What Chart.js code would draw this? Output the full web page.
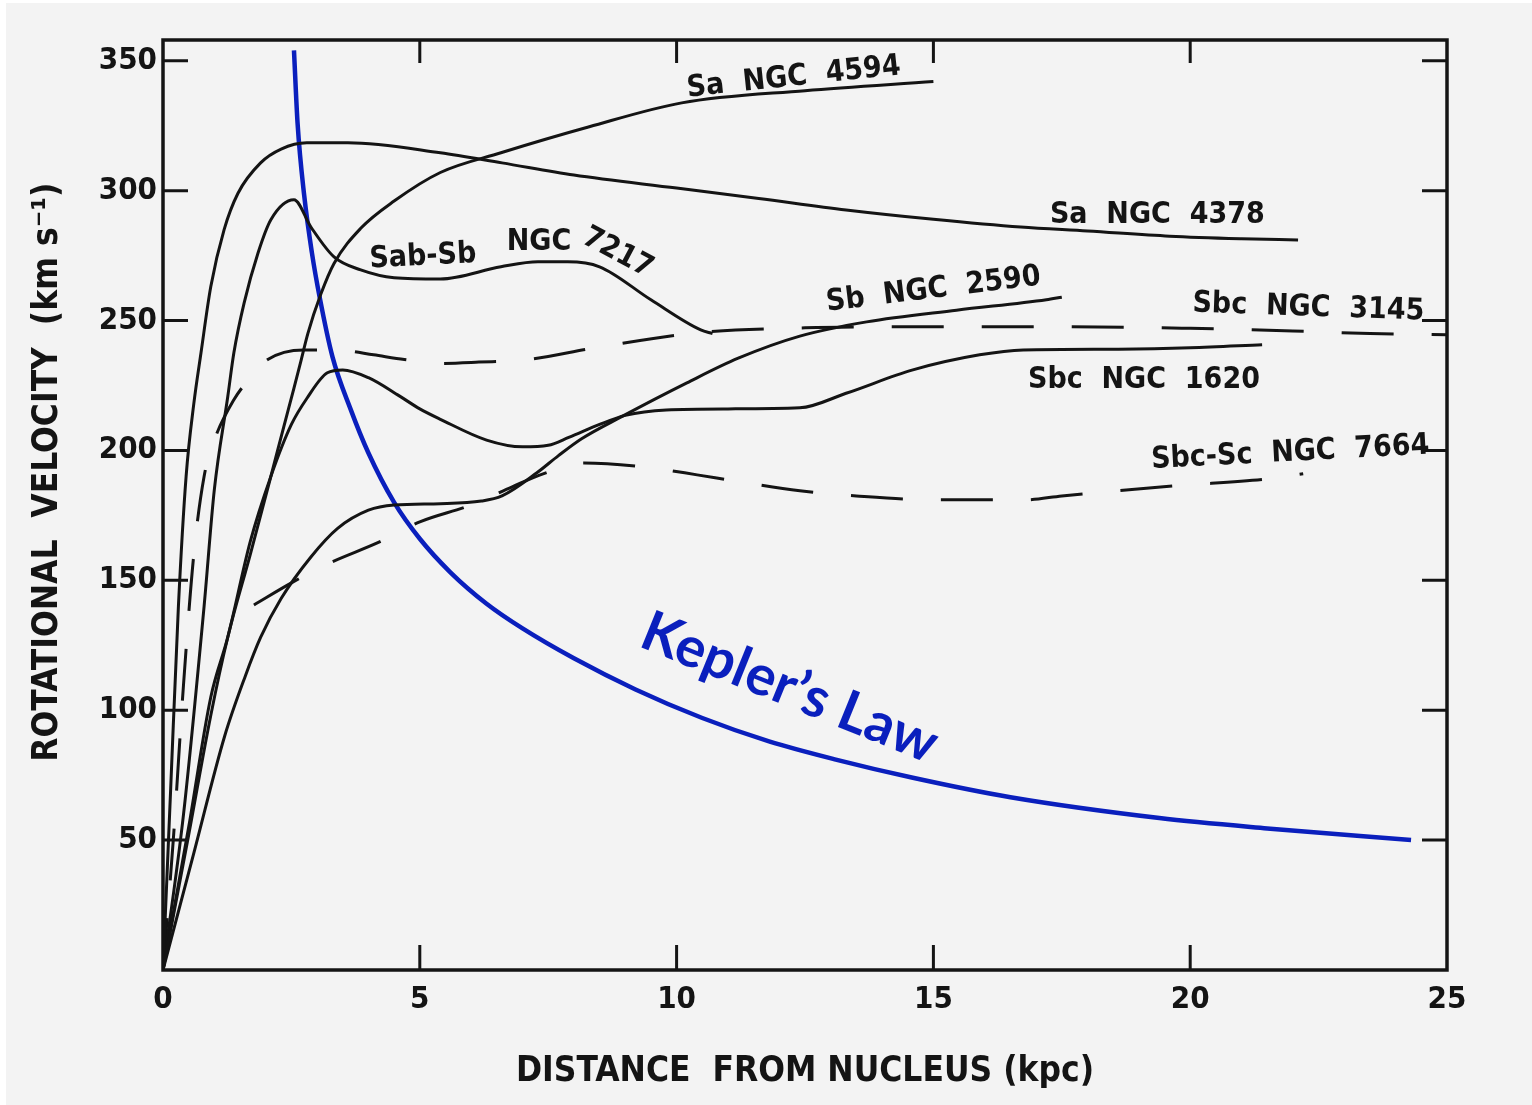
<!DOCTYPE html>
<html>
<head>
<meta charset="utf-8">
<script src="https://cdn.jsdelivr.net/npm/chart.js@4.4.1/dist/chart.umd.min.js"></script>
<style>
  html, body { margin: 0; padding: 0; background: #ffffff; }
  #wrap { width: 1532px; height: 1105px; }
</style>
</head>
<body>
<div id="wrap"><canvas id="rotationChart" width="1532" height="1105"></canvas></div>
<script>
// Axis ticks
const xTickValues = [0, 5, 10, 15, 20, 25];
const yTickValues = [50, 100, 150, 200, 250, 300, 350];

// Rotation curves (kpc / km s^-1)
const ngc4594X = [0, 0.5, 0.93, 1.26, 1.7, 2.1, 2.35, 2.55, 2.68, 2.82, 3.07, 3.33, 3.85, 4.5, 5.4, 6.58, 8.3, 10.1, 12.5, 15.0];
const ngc4594V = [0, 52, 98, 128, 160, 190, 209, 224, 234, 245, 260, 272, 285.5, 296, 307, 314.6, 324.6, 333.8, 338.5, 342];

const ngc4378X = [0, 0.15, 0.3, 0.45, 0.6, 0.74, 0.93, 1.19, 1.46, 1.9, 2.3, 2.8, 3.6, 5.4, 6.6, 8.0, 10.0, 11.6, 13.3, 15.0, 16.7, 18.0, 19.6, 21.0, 22.1];
const ngc4378V = [0, 70, 140, 190, 218, 237.6, 263, 285, 299, 310.7, 316, 318.4, 318.4, 314.6, 310.7, 306, 301, 297, 292.6, 289, 286, 284.5, 282.5, 281.5, 281];

const ngc7217X = [0, 0.4, 0.8, 1.0, 1.26, 1.38, 1.58, 1.85, 2.1, 2.55, 2.88, 3.33, 3.85, 4.5, 5.4, 6.58, 7.3, 7.88, 8.5, 9.5, 10.47, 10.7];
const ngc7217V = [0, 60, 140, 185, 220.6, 237.6, 256.8, 276, 288.8, 296.5, 286, 274.5, 269.5, 266.5, 266, 270.7, 272.6, 272.6, 270.7, 258, 246.4, 245];

const ngc2590X = [0, 0.6, 1.2, 1.6, 1.9, 2.3, 2.88, 3.4, 4.0, 4.5, 5.4, 6.2, 6.6, 7.28, 7.7, 8.15, 8.93, 10.2, 11.2, 12.4, 13.7, 15.45, 17.2, 17.5];
const ngc2590V = [0, 45, 90, 113, 128, 143, 159, 170, 177, 179, 179.5, 180.5, 182.5, 191.4, 198, 204.5, 213, 226, 235.5, 244, 249.5, 254, 258, 259];

const ngc1620X = [0, 0.5, 0.93, 1.26, 1.7, 2.1, 2.5, 2.8, 3.2, 3.5, 4.0, 4.6, 5.0, 5.4, 6.3, 7.0, 7.5, 7.9, 8.5, 9.0, 9.8, 11.0, 12.4, 13.3, 14.6, 15.9, 16.75, 18.6, 20.0, 21.4];
const ngc1620V = [0, 55, 105, 128, 165, 190, 210, 220, 229.9, 231, 228, 221, 216, 212, 204, 201.4, 202, 205, 210, 213.5, 215.6, 216, 216.4, 222, 231, 236.8, 238.7, 239, 239.5, 240.7];

const ngc3145X = [0, 0.2, 0.4, 0.6, 0.8, 1.0, 1.38, 1.7, 2.04, 2.74, 3.5, 4.1, 4.7, 5.4, 6.15, 7.1, 8.4, 10.4, 12.5, 14.6, 17.6, 20.0, 22.0, 23.5, 25.0];
const ngc3145V = [0, 50, 110, 160, 190, 204, 219.5, 228, 235, 238.7, 238.5, 236.8, 235, 233.5, 234, 235, 239.5, 245.3, 247.2, 247.6, 247.6, 247, 246, 245, 244.5];

const ngc7664X = [1.77, 2.5, 3.17, 4.24, 5.0, 6.0, 6.8, 7.4, 8.2, 9.5, 10.4, 11.2, 12.4, 13.5, 15.0, 16.8, 17.5, 19.7, 21.5, 22.2];
const ngc7664V = [140.5, 149, 156, 165, 172.5, 179, 186, 191, 195.2, 193.3, 190.6, 188, 184.5, 182.5, 181, 181, 182.5, 186.4, 189, 191];

const keplerX = [2.55, 2.62, 2.75, 2.9, 3.05, 3.3, 3.65, 4.0, 4.5, 5.0, 5.6, 6.3, 7.0, 8.0, 9.2, 10.5, 11.8, 13.1, 14.6, 16.5, 19.4, 21.5, 24.3];
const keplerV = [354, 326, 298, 276, 259, 236, 216, 199, 180, 166, 153, 141, 131.5, 120, 108, 97, 88, 81, 74, 66.5, 58.5, 54.5, 50];

// Curve labels (placed in data coordinates)
const curveLabels = [
    { text: 'Sa  NGC  4594', x: 12.28, v: 343.5, angle: -6 },
    { text: 'Sa  NGC  4378', x: 19.36, v: 290.7, angle: 0 },
    { text: 'Sab-Sb', x: 5.06, v: 274.5, angle: -3 },
    { text: 'NGC', x: 7.32, v: 280.3, angle: 0 },
    { text: '7217', x: 8.85, v: 276, angle: 28 },
    { text: 'Sb  NGC  2590', x: 15.0, v: 261.8, angle: -7 },
    { text: 'Sbc  NGC  3145', x: 22.3, v: 254.9, angle: 2 },
    { text: 'Sbc  NGC  1620', x: 19.1, v: 227.2, angle: 0 },
    { text: 'Sbc-Sc  NGC  7664', x: 21.95, v: 199, angle: -3 }
];
const keplerLabel = { text: 'Kepler\u2019s Law', x: 12.2, v: 108.6, angle: 22 };

const INK = '#141414';
const BLUE = '#0a1fbd';
const FONT = "'DejaVu Sans Condensed', 'DejaVu Sans', sans-serif";

function toPoints(xs, vs) {
    return xs.map((x, i) => ({ x: x, y: vs[i] }));
}

function curve(label, xs, vs, dashed) {
    return {
        label: label,
        data: toPoints(xs, vs),
        borderColor: INK,
        borderWidth: 3,
        borderDash: dashed ? [52, 38] : [],
        pointRadius: 0,
        fill: false,
        cubicInterpolationMode: 'monotone'
    };
}

const paperPlugin = {
    id: 'paper',
    beforeDraw(chart) {
        const { ctx, width, height } = chart;
        ctx.save();
        ctx.fillStyle = '#ffffff';
        ctx.fillRect(0, 0, width, height);
        ctx.fillStyle = '#f3f3f3';
        ctx.fillRect(6, 3, width - 6, height - 3);
        ctx.restore();
    },
    afterDatasetsDraw(chart) {
        const { ctx, chartArea: a, scales: { x, y } } = chart;
        ctx.save();
        ctx.strokeStyle = INK;
        ctx.lineWidth = 3.5;
        ctx.strokeRect(a.left, a.top, a.right - a.left, a.bottom - a.top);

        // inward tick marks on all four sides
        ctx.lineWidth = 3;
        ctx.beginPath();
        xTickValues.slice(1, -1).forEach(v => {
            const px = x.getPixelForValue(v);
            ctx.moveTo(px, a.bottom); ctx.lineTo(px, a.bottom - 25);
            ctx.moveTo(px, a.top); ctx.lineTo(px, a.top + 23);
        });
        yTickValues.forEach(v => {
            const py = y.getPixelForValue(v);
            ctx.moveTo(a.left, py); ctx.lineTo(a.left + 25, py);
            ctx.moveTo(a.right, py); ctx.lineTo(a.right - 25, py);
        });
        ctx.stroke();

        // curve names
        ctx.fillStyle = INK;
        ctx.font = 'bold 30px ' + FONT;
        ctx.textAlign = 'center';
        ctx.textBaseline = 'middle';
        curveLabels.forEach(l => {
            ctx.save();
            ctx.translate(x.getPixelForValue(l.x), y.getPixelForValue(l.v));
            ctx.rotate(l.angle * Math.PI / 180);
            ctx.fillText(l.text, 0, 0);
            ctx.restore();
        });

        ctx.fillStyle = BLUE;
        ctx.font = "bold 56px Lato, 'Open Sans', sans-serif";
        ctx.translate(x.getPixelForValue(keplerLabel.x), y.getPixelForValue(keplerLabel.v));
        ctx.rotate(keplerLabel.angle * Math.PI / 180);
        ctx.fillText(keplerLabel.text, 0, 0);
        ctx.restore();
    }
};

const keplerSet = {
    label: 'Kepler\u2019s Law',
    data: toPoints(keplerX, keplerV),
    borderColor: BLUE,
    borderWidth: 4.5,
    pointRadius: 0,
    fill: false,
    cubicInterpolationMode: 'monotone'
};

new Chart(document.getElementById('rotationChart'), {
    type: 'line',
    data: {
        datasets: [
            curve('Sa NGC 4594', ngc4594X, ngc4594V, false),
            curve('Sa NGC 4378', ngc4378X, ngc4378V, false),
            curve('Sab-Sb NGC 7217', ngc7217X, ngc7217V, false),
            curve('Sb NGC 2590', ngc2590X, ngc2590V, false),
            curve('Sbc NGC 1620', ngc1620X, ngc1620V, false),
            curve('Sbc NGC 3145', ngc3145X, ngc3145V, true),
            curve('Sbc-Sc NGC 7664', ngc7664X, ngc7664V, true),
            keplerSet
        ]
    },
    options: {
        responsive: false,
        animation: false,
        layout: { padding: { left: 0, top: 40, right: 85, bottom: 0 } },
        plugins: {
            legend: { display: false },
            tooltip: { enabled: false }
        },
        scales: {
            x: {
                type: 'linear',
                min: 0,
                max: 25,
                afterFit: s => { s.height = 135; },
                afterBuildTicks: s => { s.ticks = xTickValues.map(v => ({ value: v })); },
                grid: { display: false, drawTicks: false },
                border: { display: false },
                ticks: {
                    padding: 11,
                    color: INK,
                    font: { family: FONT, size: 31, weight: 'bold' }
                },
                title: {
                    display: true,
                    text: 'DISTANCE  FROM NUCLEUS (kpc)',
                    color: INK,
                    font: { family: FONT, size: 35, weight: 'bold' },
                    padding: { top: 0, bottom: 12 }
                }
            },
            y: {
                min: 0,
                max: 358,
                afterFit: s => { s.width = 163; },
                afterBuildTicks: s => { s.ticks = yTickValues.map(v => ({ value: v })); },
                grid: { display: false, drawTicks: false },
                border: { display: false },
                ticks: {
                    padding: 6,
                    color: INK,
                    font: { family: FONT, size: 31, weight: 'bold' }
                },
                title: {
                    display: true,
                    // leading spaces nudge the title upward, as in the original figure
                    text: '      ROTATIONAL  VELOCITY  (km s\u207B\u00B9)',
                    color: INK,
                    font: { family: FONT, size: 35, weight: 'bold' },
                    padding: { top: 27, bottom: 0 }
                }
            }
        }
    },
    plugins: [paperPlugin]
});
</script>
</body>
</html>
